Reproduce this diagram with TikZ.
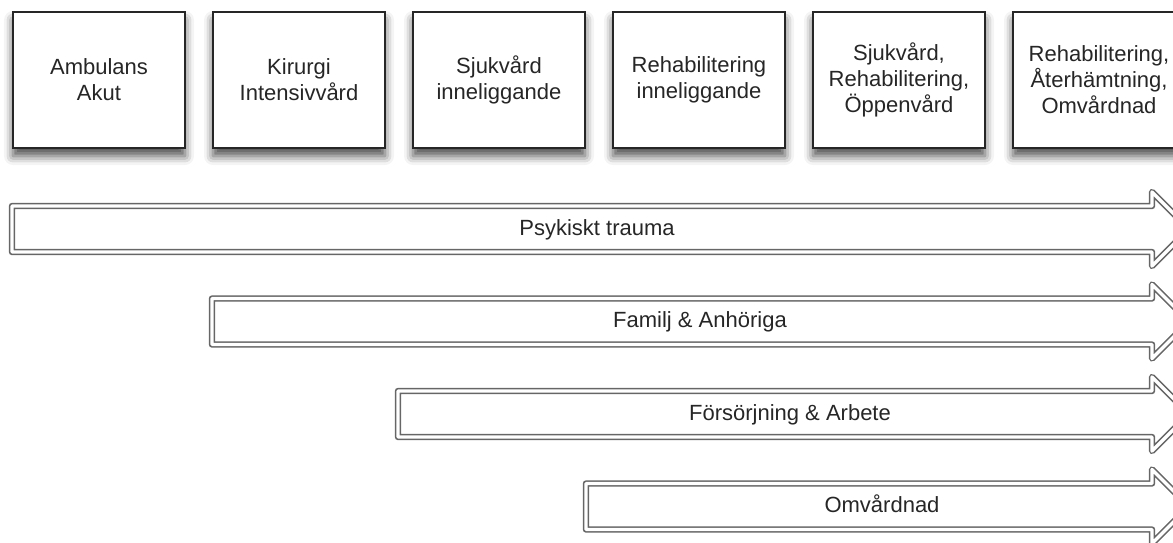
\documentclass[tikz,border=0pt]{standalone}
\usepackage{fontspec}
\setmainfont{Liberation Sans}
\usetikzlibrary{shadows.blur}
\newcommand\flowarrow[2]{%
  \draw[flow] (#1,#2-23) -- (1152,#2-23) -- (1152,#2-37) -- (1189,#2)
    -- (1152,#2+37) -- (1152,#2+23) -- (#1,#2+23) -- cycle;}
\begin{document}
\begin{tikzpicture}[x=1pt,y=-1pt,
  stage/.style={draw=black!85, line width=1.3pt, fill=white,
    minimum width=172pt, minimum height=136pt, inner sep=0pt, align=center,
    font=\fontsize{22}{26}\selectfont, text=black!85,
    blur shadow={shadow xshift=0pt, shadow yshift=-8pt, shadow blur radius=9pt, shadow opacity=70}},
  flow/.style={draw=black!60, line width=1.5pt, double=white, double distance=3.4pt, line join=round},
  flowtext/.style={font=\fontsize{22}{26}\selectfont, text=black!85, anchor=base}]
\useasboundingbox (0,0) rectangle (1173,542);
\clip (0,0) rectangle (1173,542);
\node[stage] (s1) at (99,80)  {Ambulans\\Akut};
\node[stage] (s2) at (299,80) {Kirurgi\\Intensivvård};
\node[stage] (s3) at (499,80) {Sjukvård\\inneliggande};
\node[stage] (s4) at (699,80) {Rehabilitering\\inneliggande};
\node[stage] (s5) at (899,80) {Sjukvård,\\Rehabilitering,\\Öppenvård};
\node[stage] (s6) at (1099,80) {Rehabilitering,\\Återhämtning,\\Omvårdnad};
\flowarrow{12}{229}
\flowarrow{212}{321.5}
\flowarrow{398}{414}
\flowarrow{586}{506.5}
\node[flowtext] (t1) at (597,235) {Psykiskt trauma};
\node[flowtext] (t2) at (700,327.5) {Familj \& Anhöriga};
\node[flowtext] (t3) at (790,420) {Försörjning \& Arbete};
\node[flowtext] (t4) at (882,512.5) {Omvårdnad};
\end{tikzpicture}
\end{document}
